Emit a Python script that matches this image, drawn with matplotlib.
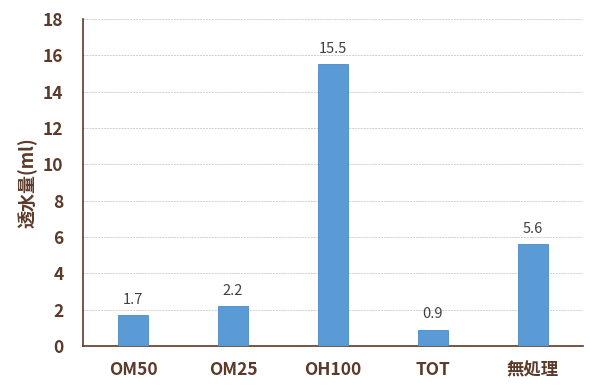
import matplotlib
matplotlib.use("Agg")
import matplotlib.pyplot as plt

categories = ["OM50", "OM25", "OH100", "TOT", "無処理"]
values = [1.7, 2.2, 15.5, 0.9, 5.6]
yticks = [0, 2, 4, 6, 8, 10, 12, 14, 16, 18]

plt.rcParams['font.family'] = ['Noto Sans CJK JP', 'DejaVu Sans']

brown = "#5b3a29"
fig = plt.figure(figsize=(5.9, 3.85), dpi=100)
ax = fig.add_axes([0.1407, 0.1013, 0.8473, 0.8493])

x = list(range(len(categories)))
ax.bar(x, values, width=0.3, color="#5b9bd5", edgecolor="#4a8ac8", linewidth=0.6, zorder=3)
for xi, v in zip(x, values):
    ax.text(xi, v + 0.45, f"{v}", ha="center", va="bottom", fontsize=10.5, color="#404040")

ax.set_xlim(-0.5, 4.5)
ax.set_ylim(0, 18)
ax.set_yticks(yticks)
ax.set_xticks(x)
ax.set_xticklabels(categories, fontsize=12.5, fontweight="bold", color=brown)
ax.tick_params(axis="y", labelsize=12.5, colors=brown, length=0, pad=14)
ax.tick_params(axis="x", length=0, pad=11)
for lab in ax.get_yticklabels():
    lab.set_fontweight("bold")
ax.grid(axis="y", color="#d0d0d0", linestyle=(0, (2, 1)), linewidth=0.7, zorder=0)
ax.set_ylabel("透水量(ml)", fontsize=13, fontweight="bold", color=brown, labelpad=4)

for side in ["top", "right"]:
    ax.spines[side].set_visible(False)
ax.spines["left"].set_color(brown)
ax.spines["bottom"].set_color(brown)
ax.spines["left"].set_linewidth(1.2)
ax.spines["bottom"].set_linewidth(1.2)

fig.savefig("out.png", dpi=100)
